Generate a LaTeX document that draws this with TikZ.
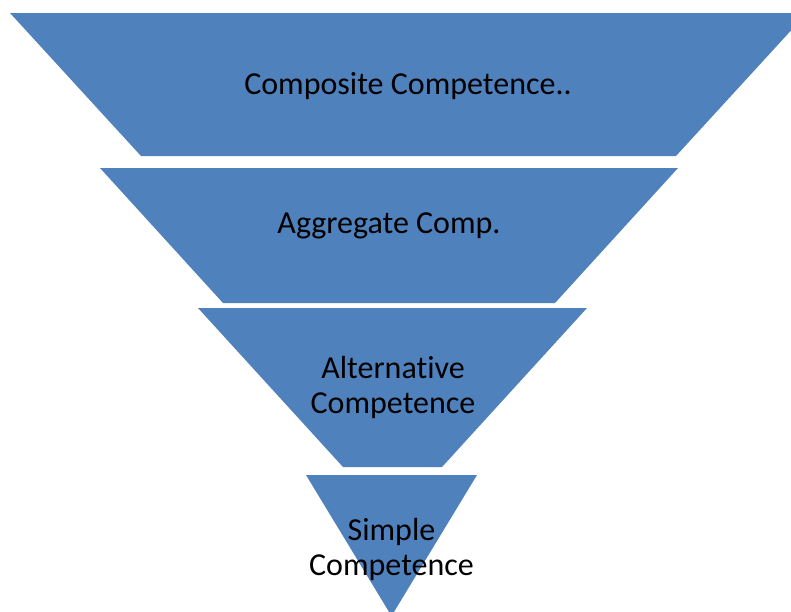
\documentclass[tikz,border=0pt]{standalone}
\usepackage{fontspec}
\setmainfont[Ligatures={NoCommon}]{Carlito}
\definecolor{funnelblue}{HTML}{4F81BD}
\tikzset{
  layer/.style={fill=funnelblue, draw=none},
  lbl/.style={font=\fontsize{32}{35}\selectfont, text=black, inner sep=0pt, align=center}
}
\begin{document}
\begin{tikzpicture}[x=1pt,y=-1pt]
\useasboundingbox (0,0) rectangle (791,611);
\begin{scope}
\clip (0,0) rectangle (791,611);
\fill[layer] (10,13) -- (807,13) -- (676,156) -- (141,156) -- cycle;
\fill[layer] (100,168) -- (678,168) -- (555,303) -- (223,303) -- cycle;
\fill[layer] (198,308) -- (587,308) -- (442,467) -- (343,467) -- cycle;
\fill[layer] (306,475) -- (477,475) -- (391.5,616) -- cycle;
\end{scope}
\node[lbl, anchor=base] (composite) at (408,94) {Composite Competence..};
\node[lbl, anchor=base] (aggregate) at (389,233) {Aggregate Comp.};
\node[lbl, anchor=center] (alternative) at (393,387) {Alternative\\Competence};
\node[lbl, anchor=center] (simple) at (391.5,549.5) {Simple\\Competence};
\end{tikzpicture}
\end{document}
